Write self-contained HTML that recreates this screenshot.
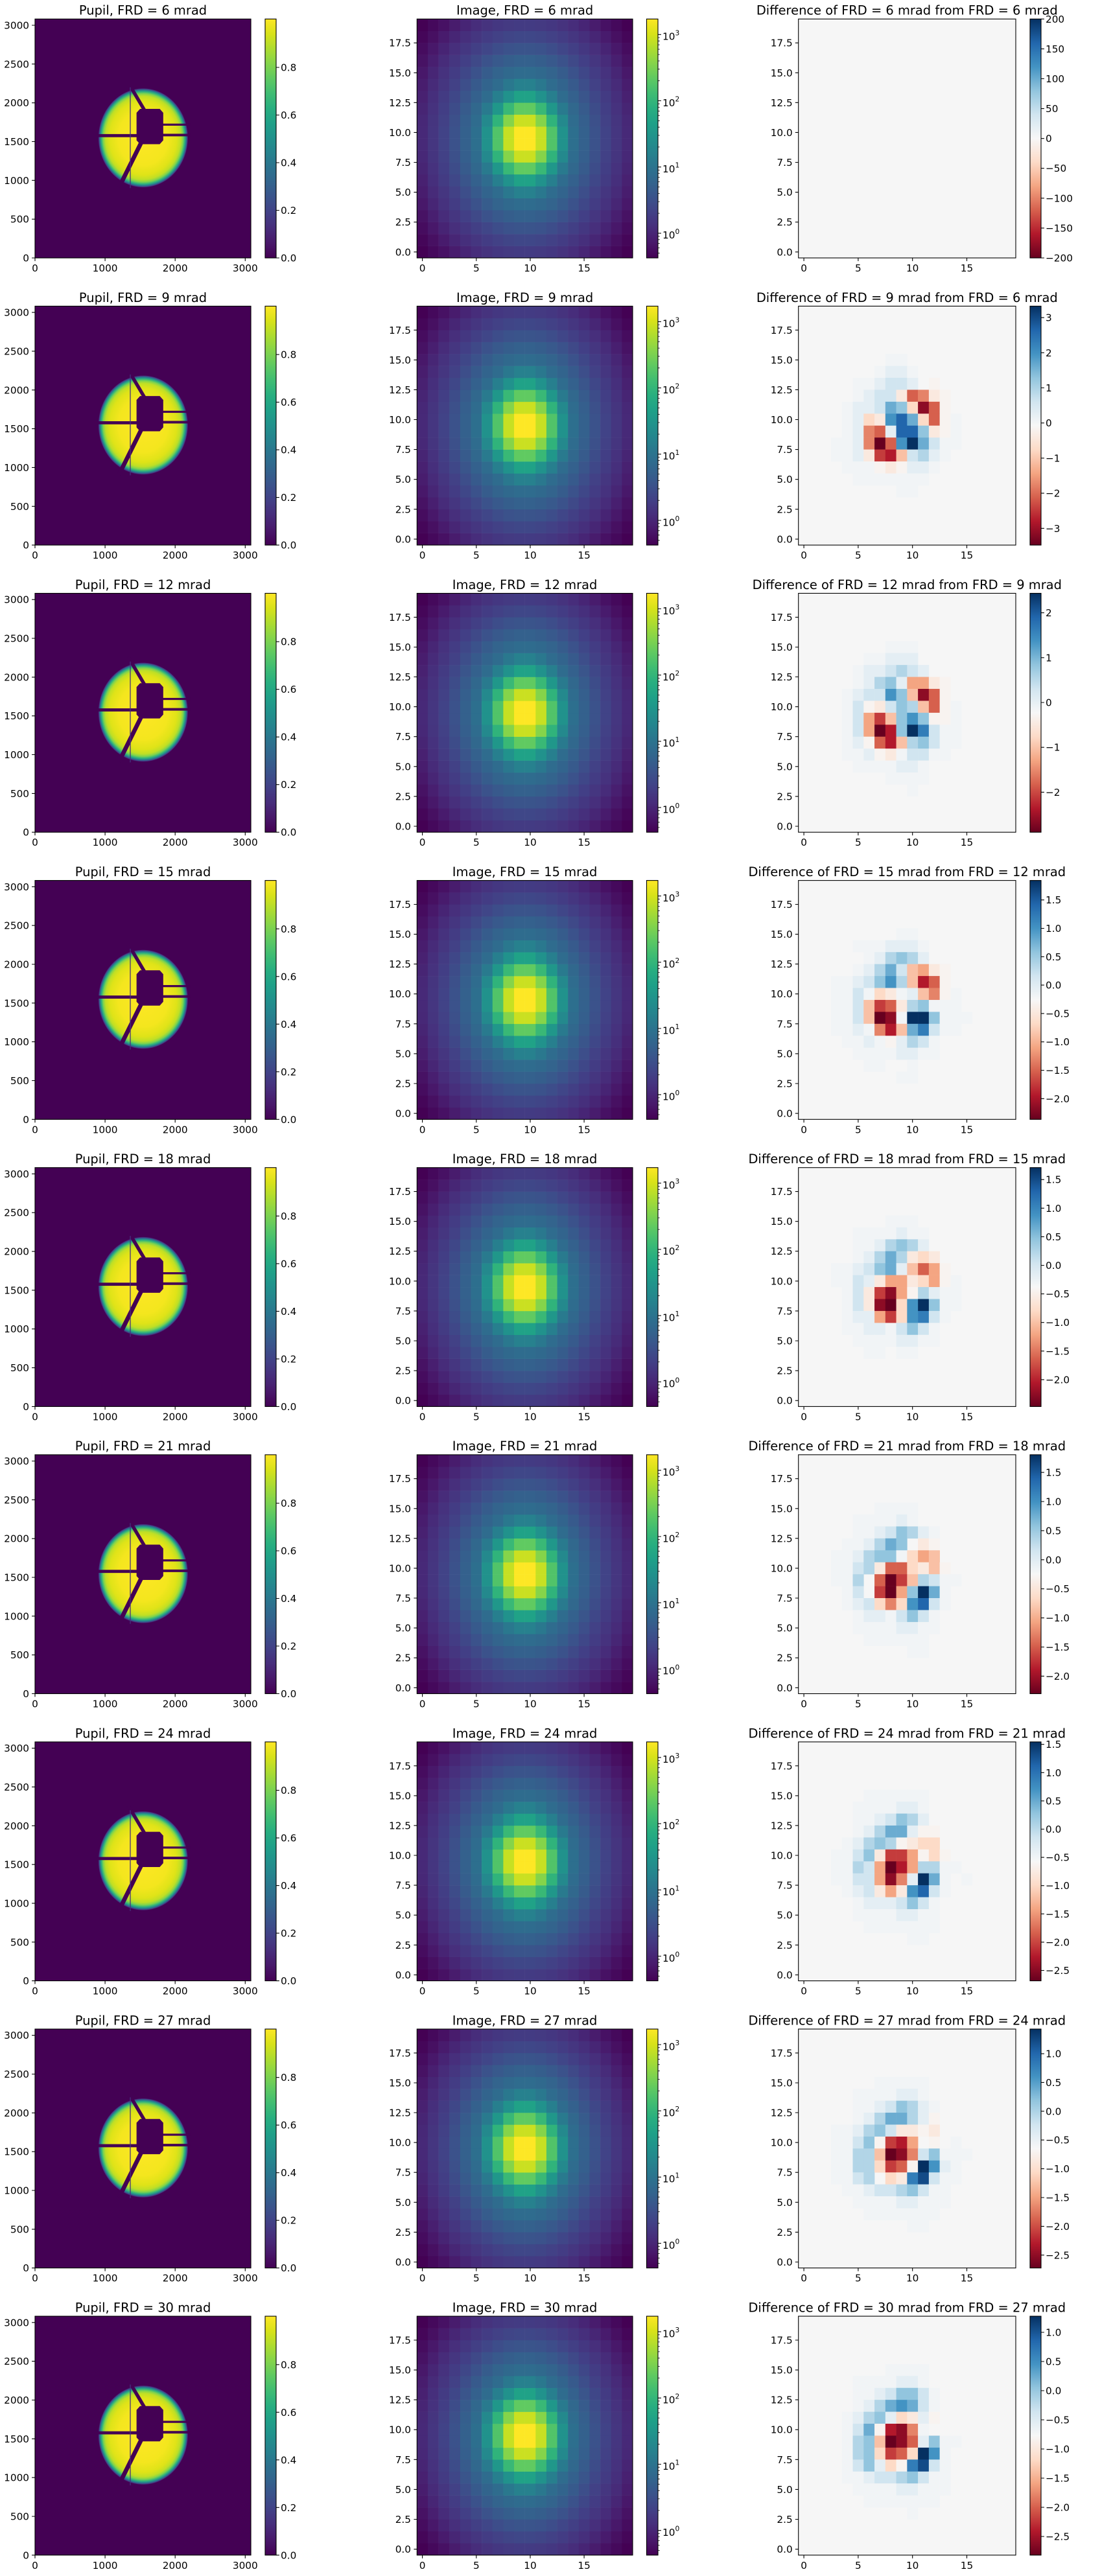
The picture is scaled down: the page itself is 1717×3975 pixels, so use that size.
<!DOCTYPE html>
<html><head><meta charset="utf-8">
<style>
html,body{margin:0;padding:0;background:#fff}
svg{display:block}
text{font-family:"DejaVu Sans","Liberation Sans",sans-serif;font-size:15.28px;fill:#000}
.t{font-size:19.44px;text-anchor:middle}
.r{text-anchor:end}
.c{text-anchor:middle}
.s{font-size:10.7px}
.tk{fill:none;stroke:#000;stroke-width:1.1}
</style></head><body>
<svg xmlns="http://www.w3.org/2000/svg" xmlns:xlink="http://www.w3.org/1999/xlink" width="1717" height="3975" viewBox="0 0 1717 3975">
<defs>
<linearGradient id="gv" x1="0" y1="1" x2="0" y2="0">
<stop offset="0" stop-color="#440154"/><stop offset="0.0625" stop-color="#48186a"/><stop offset="0.125" stop-color="#472d7b"/><stop offset="0.1875" stop-color="#424086"/><stop offset="0.25" stop-color="#3b528b"/><stop offset="0.3125" stop-color="#33638d"/><stop offset="0.375" stop-color="#2c728e"/><stop offset="0.4375" stop-color="#26828e"/><stop offset="0.5" stop-color="#21918c"/><stop offset="0.5625" stop-color="#1fa088"/><stop offset="0.625" stop-color="#28ae80"/><stop offset="0.6875" stop-color="#3fbc73"/><stop offset="0.75" stop-color="#5ec962"/><stop offset="0.8125" stop-color="#84d44b"/><stop offset="0.875" stop-color="#addc30"/><stop offset="0.9375" stop-color="#d8e219"/><stop offset="1" stop-color="#fde725"/>
</linearGradient>
<linearGradient id="gr" x1="0" y1="1" x2="0" y2="0">
<stop offset="0" stop-color="#67001f"/><stop offset="0.1" stop-color="#b2182b"/><stop offset="0.2" stop-color="#d6604d"/><stop offset="0.3" stop-color="#f4a582"/><stop offset="0.4" stop-color="#fddbc7"/><stop offset="0.5" stop-color="#f7f7f7"/><stop offset="0.6" stop-color="#d1e5f0"/><stop offset="0.7" stop-color="#92c5de"/><stop offset="0.8" stop-color="#4393c3"/><stop offset="0.9" stop-color="#2166ac"/><stop offset="1" stop-color="#053061"/>
</linearGradient>
<radialGradient id="pg" gradientUnits="userSpaceOnUse" cx="1543" cy="1548" r="640">
<stop offset="0" stop-color="#fde725"/><stop offset="0.55" stop-color="#f4e61e"/><stop offset="0.75" stop-color="#dfe318"/><stop offset="0.84" stop-color="#bfdf25"/><stop offset="0.89" stop-color="#7fd34e"/><stop offset="0.925" stop-color="#35b779"/><stop offset="0.955" stop-color="#23888e"/><stop offset="0.978" stop-color="#3b528b"/><stop offset="0.993" stop-color="#482475"/><stop offset="1" stop-color="#440154"/>
</radialGradient>
<clipPath id="pc"><rect x="54" y="29.3" width="333" height="368.7"/></clipPath>
<g id="pupil" clip-path="url(#pc)">
<rect x="54" y="29.3" width="333" height="368.7" fill="#440154"/>
<g transform="matrix(0.1081 0 0 -0.11967 54 398)">
<circle cx="1543" cy="1548" r="640" fill="url(#pg)"/>
<g fill="#440154">
<rect x="880" y="1557" width="580" height="40"/>
<rect x="1820" y="1705" width="400" height="27"/>
<rect x="1820" y="1568" width="400" height="33"/>
<polygon points="1499,1922 1780,1922 1830,1872 1830,1517 1780,1467 1499,1467 1449,1517 1449,1872"/>
</g>
<line x1="1330" y1="2260" x2="1572" y2="1890" stroke="#440154" stroke-width="48"/>
<line x1="1520" y1="1495" x2="1199" y2="910" stroke="#440154" stroke-width="60"/>
<line x1="1360" y1="2200" x2="1360" y2="900" stroke="#46307e" stroke-width="12"/>
</g>
</g>
<g id="psf"></g>
<g id="fr">
<rect x="409" y="29.3" width="17" height="368.7" fill="url(#gv)" stroke="#000" stroke-width="1.1"/>
<rect x="997.5" y="29.3" width="17.5" height="368.7" fill="url(#gv)" stroke="#000" stroke-width="1.1"/>
<rect x="1589" y="29.3" width="17" height="368.7" fill="url(#gr)" stroke="#000" stroke-width="1.1"/>
<g fill="none" stroke="#000" stroke-width="1.1">
<rect x="54" y="29.3" width="333" height="368.7"/>
<rect x="643.3" y="29.3" width="332.7" height="368.7"/>
<rect x="1231.7" y="29.3" width="335.3" height="368.7"/>
<path d="M54 398v4.9M162.1 398v4.9M270.2 398v4.9M378.3 398v4.9M49.1 398h4.9M49.1 338.2h4.9M49.1 278.3h4.9M49.1 218.5h4.9M49.1 158.7h4.9M49.1 98.8h4.9M49.1 39h4.9M426 398h4.9M426 324.5h4.9M426 251h4.9M426 177.5h4.9M426 104h4.9M651.6 398v4.9M734.8 398v4.9M818 398v4.9M901.1 398v4.9M638.4 388.8h4.9M638.4 342.7h4.9M638.4 296.6h4.9M638.4 250.5h4.9M638.4 204.4h4.9M638.4 158.3h4.9M638.4 112.3h4.9M638.4 66.2h4.9M1015 359.9h4.9M1015 257.7h4.9M1015 155.5h4.9M1015 53.3h4.9M1240.1 398v4.9M1323.9 398v4.9M1407.7 398v4.9M1491.5 398v4.9M1226.8 388.8h4.9M1226.8 342.7h4.9M1226.8 296.6h4.9M1226.8 250.5h4.9M1226.8 204.4h4.9M1226.8 158.3h4.9M1226.8 112.3h4.9M1226.8 66.2h4.9"/>
<path stroke-width="0.8" d="M1015 329.1h2.8M1015 311.1h2.8M1015 298.4h2.8M1015 288.5h2.8M1015 280.4h2.8M1015 273.5h2.8M1015 267.6h2.8M1015 262.4h2.8M1015 226.9h2.8M1015 208.9h2.8M1015 196.2h2.8M1015 186.3h2.8M1015 178.2h2.8M1015 171.3h2.8M1015 165.4h2.8M1015 160.2h2.8M1015 124.7h2.8M1015 106.7h2.8M1015 94h2.8M1015 84.1h2.8M1015 76h2.8M1015 69.1h2.8M1015 63.2h2.8M1015 58h2.8M1015 390.7h2.8M1015 382.6h2.8M1015 375.7h2.8M1015 369.8h2.8M1015 364.6h2.8"/>
</g>
</g>
</defs>

<!-- ROW 1 -->
<g>
<use href="#pupil" xlink:href="#pupil"/><use href="#psf" xlink:href="#psf"/>
<rect x="1231.7" y="29.3" width="335.3" height="368.7" fill="#f6f6f6"/><g id="d0"></g>
<use href="#fr" xlink:href="#fr"/>
<path class="tk" d="M1606 29.3h4.9M1606 75.4h4.9M1606 121.5h4.9M1606 167.6h4.9M1606 213.7h4.9M1606 259.7h4.9M1606 305.8h4.9M1606 351.9h4.9M1606 398h4.9"/>
<text class="t" x="220.5" y="22.7">Pupil, FRD = 6 mrad</text>
<text class="t" x="809.6" y="22.7">Image, FRD = 6 mrad</text>
<text class="t" x="1399.3" y="22.7">Difference of FRD = 6 mrad from FRD = 6 mrad</text>
<text class="r"><tspan x="45" y="403.5">0</tspan><tspan x="45" y="343.7">500</tspan><tspan x="45" y="283.8">1000</tspan><tspan x="45" y="224">1500</tspan><tspan x="45" y="164.2">2000</tspan><tspan x="45" y="104.3">2500</tspan><tspan x="45" y="44.5">3000</tspan></text><text class="c"><tspan x="54" y="419">0</tspan><tspan x="162.1" y="419">1000</tspan><tspan x="270.2" y="419">2000</tspan><tspan x="378.3" y="419">3000</tspan></text><text><tspan x="433" y="403.5">0.0</tspan><tspan x="433" y="330">0.2</tspan><tspan x="433" y="256.5">0.4</tspan><tspan x="433" y="183">0.6</tspan><tspan x="433" y="109.5">0.8</tspan></text>
<text class="r"><tspan x="634" y="394.3">0.0</tspan><tspan x="634" y="348.2">2.5</tspan><tspan x="634" y="302.1">5.0</tspan><tspan x="634" y="256">7.5</tspan><tspan x="634" y="209.9">10.0</tspan><tspan x="634" y="163.8">12.5</tspan><tspan x="634" y="117.8">15.0</tspan><tspan x="634" y="71.7">17.5</tspan></text><text class="c"><tspan x="651.6" y="419">0</tspan><tspan x="734.8" y="419">5</tspan><tspan x="818" y="419">10</tspan><tspan x="901.1" y="419">15</tspan></text><text x="1022" y="61.6">10<tspan dy="-7.3" class="s">3</tspan></text><text x="1022" y="163.8">10<tspan dy="-7.3" class="s">2</tspan></text><text x="1022" y="266">10<tspan dy="-7.3" class="s">1</tspan></text><text x="1022" y="368.2">10<tspan dy="-7.3" class="s">0</tspan></text>
<text class="r"><tspan x="1222.7" y="394.3">0.0</tspan><tspan x="1222.7" y="348.2">2.5</tspan><tspan x="1222.7" y="302.1">5.0</tspan><tspan x="1222.7" y="256">7.5</tspan><tspan x="1222.7" y="209.9">10.0</tspan><tspan x="1222.7" y="163.8">12.5</tspan><tspan x="1222.7" y="117.8">15.0</tspan><tspan x="1222.7" y="71.7">17.5</tspan></text><text class="c"><tspan x="1240.1" y="419">0</tspan><tspan x="1323.9" y="419">5</tspan><tspan x="1407.7" y="419">10</tspan><tspan x="1491.5" y="419">15</tspan></text>
<text><tspan x="1613" y="34.8">200</tspan><tspan x="1613" y="80.9">150</tspan><tspan x="1613" y="127">100</tspan><tspan x="1613" y="173.1">50</tspan><tspan x="1613" y="219.2">0</tspan><tspan x="1613" y="265.2">−50</tspan><tspan x="1613" y="311.3">−100</tspan><tspan x="1613" y="357.4">−150</tspan><tspan x="1613" y="403.5">−200</tspan></text>
</g>

<!-- ROW 2 -->
<g transform="translate(0,443.1)">
<use href="#pupil" xlink:href="#pupil"/><use href="#psf" xlink:href="#psf"/>
<rect x="1231.7" y="29.3" width="335.3" height="368.7" fill="#f6f6f6"/><g id="d1"></g>
<use href="#fr" xlink:href="#fr"/>
<path class="tk" d="M1606 47h4.9M1606 101.2h4.9M1606 155.4h4.9M1606 209.6h4.9M1606 263.8h4.9M1606 318h4.9M1606 372.2h4.9"/>
<text class="t" x="220.5" y="22.7">Pupil, FRD = 9 mrad</text>
<text class="t" x="809.6" y="22.7">Image, FRD = 9 mrad</text>
<text class="t" x="1399.3" y="22.7">Difference of FRD = 9 mrad from FRD = 6 mrad</text>
<text class="r"><tspan x="45" y="403.5">0</tspan><tspan x="45" y="343.7">500</tspan><tspan x="45" y="283.8">1000</tspan><tspan x="45" y="224">1500</tspan><tspan x="45" y="164.2">2000</tspan><tspan x="45" y="104.3">2500</tspan><tspan x="45" y="44.5">3000</tspan></text><text class="c"><tspan x="54" y="419">0</tspan><tspan x="162.1" y="419">1000</tspan><tspan x="270.2" y="419">2000</tspan><tspan x="378.3" y="419">3000</tspan></text><text><tspan x="433" y="403.5">0.0</tspan><tspan x="433" y="330">0.2</tspan><tspan x="433" y="256.5">0.4</tspan><tspan x="433" y="183">0.6</tspan><tspan x="433" y="109.5">0.8</tspan></text>
<text class="r"><tspan x="634" y="394.3">0.0</tspan><tspan x="634" y="348.2">2.5</tspan><tspan x="634" y="302.1">5.0</tspan><tspan x="634" y="256">7.5</tspan><tspan x="634" y="209.9">10.0</tspan><tspan x="634" y="163.8">12.5</tspan><tspan x="634" y="117.8">15.0</tspan><tspan x="634" y="71.7">17.5</tspan></text><text class="c"><tspan x="651.6" y="419">0</tspan><tspan x="734.8" y="419">5</tspan><tspan x="818" y="419">10</tspan><tspan x="901.1" y="419">15</tspan></text><text x="1022" y="61.6">10<tspan dy="-7.3" class="s">3</tspan></text><text x="1022" y="163.8">10<tspan dy="-7.3" class="s">2</tspan></text><text x="1022" y="266">10<tspan dy="-7.3" class="s">1</tspan></text><text x="1022" y="368.2">10<tspan dy="-7.3" class="s">0</tspan></text>
<text class="r"><tspan x="1222.7" y="394.3">0.0</tspan><tspan x="1222.7" y="348.2">2.5</tspan><tspan x="1222.7" y="302.1">5.0</tspan><tspan x="1222.7" y="256">7.5</tspan><tspan x="1222.7" y="209.9">10.0</tspan><tspan x="1222.7" y="163.8">12.5</tspan><tspan x="1222.7" y="117.8">15.0</tspan><tspan x="1222.7" y="71.7">17.5</tspan></text><text class="c"><tspan x="1240.1" y="419">0</tspan><tspan x="1323.9" y="419">5</tspan><tspan x="1407.7" y="419">10</tspan><tspan x="1491.5" y="419">15</tspan></text>
<text><tspan x="1613" y="52.5">3</tspan><tspan x="1613" y="106.7">2</tspan><tspan x="1613" y="160.9">1</tspan><tspan x="1613" y="215.1">0</tspan><tspan x="1613" y="269.3">−1</tspan><tspan x="1613" y="323.5">−2</tspan><tspan x="1613" y="377.7">−3</tspan></text>
</g>

<!-- ROW 3 -->
<g transform="translate(0,886.2)">
<use href="#pupil" xlink:href="#pupil"/><use href="#psf" xlink:href="#psf"/>
<rect x="1231.7" y="29.3" width="335.3" height="368.7" fill="#f6f6f6"/><g id="d2"></g>
<use href="#fr" xlink:href="#fr"/>
<path class="tk" d="M1606 59.4h4.9M1606 128.6h4.9M1606 197.8h4.9M1606 267h4.9M1606 336.2h4.9"/>
<text class="t" x="220.5" y="22.7">Pupil, FRD = 12 mrad</text>
<text class="t" x="809.6" y="22.7">Image, FRD = 12 mrad</text>
<text class="t" x="1399.3" y="22.7">Difference of FRD = 12 mrad from FRD = 9 mrad</text>
<text class="r"><tspan x="45" y="403.5">0</tspan><tspan x="45" y="343.7">500</tspan><tspan x="45" y="283.8">1000</tspan><tspan x="45" y="224">1500</tspan><tspan x="45" y="164.2">2000</tspan><tspan x="45" y="104.3">2500</tspan><tspan x="45" y="44.5">3000</tspan></text><text class="c"><tspan x="54" y="419">0</tspan><tspan x="162.1" y="419">1000</tspan><tspan x="270.2" y="419">2000</tspan><tspan x="378.3" y="419">3000</tspan></text><text><tspan x="433" y="403.5">0.0</tspan><tspan x="433" y="330">0.2</tspan><tspan x="433" y="256.5">0.4</tspan><tspan x="433" y="183">0.6</tspan><tspan x="433" y="109.5">0.8</tspan></text>
<text class="r"><tspan x="634" y="394.3">0.0</tspan><tspan x="634" y="348.2">2.5</tspan><tspan x="634" y="302.1">5.0</tspan><tspan x="634" y="256">7.5</tspan><tspan x="634" y="209.9">10.0</tspan><tspan x="634" y="163.8">12.5</tspan><tspan x="634" y="117.8">15.0</tspan><tspan x="634" y="71.7">17.5</tspan></text><text class="c"><tspan x="651.6" y="419">0</tspan><tspan x="734.8" y="419">5</tspan><tspan x="818" y="419">10</tspan><tspan x="901.1" y="419">15</tspan></text><text x="1022" y="61.6">10<tspan dy="-7.3" class="s">3</tspan></text><text x="1022" y="163.8">10<tspan dy="-7.3" class="s">2</tspan></text><text x="1022" y="266">10<tspan dy="-7.3" class="s">1</tspan></text><text x="1022" y="368.2">10<tspan dy="-7.3" class="s">0</tspan></text>
<text class="r"><tspan x="1222.7" y="394.3">0.0</tspan><tspan x="1222.7" y="348.2">2.5</tspan><tspan x="1222.7" y="302.1">5.0</tspan><tspan x="1222.7" y="256">7.5</tspan><tspan x="1222.7" y="209.9">10.0</tspan><tspan x="1222.7" y="163.8">12.5</tspan><tspan x="1222.7" y="117.8">15.0</tspan><tspan x="1222.7" y="71.7">17.5</tspan></text><text class="c"><tspan x="1240.1" y="419">0</tspan><tspan x="1323.9" y="419">5</tspan><tspan x="1407.7" y="419">10</tspan><tspan x="1491.5" y="419">15</tspan></text>
<text><tspan x="1613" y="64.9">2</tspan><tspan x="1613" y="134.1">1</tspan><tspan x="1613" y="203.3">0</tspan><tspan x="1613" y="272.5">−1</tspan><tspan x="1613" y="341.7">−2</tspan></text>
</g>

<!-- ROW 4 -->
<g transform="translate(0,1329.3)">
<use href="#pupil" xlink:href="#pupil"/><use href="#psf" xlink:href="#psf"/>
<rect x="1231.7" y="29.3" width="335.3" height="368.7" fill="#f6f6f6"/><g id="d3"></g>
<use href="#fr" xlink:href="#fr"/>
<path class="tk" d="M1606 59.4h4.9M1606 103.2h4.9M1606 147h4.9M1606 190.8h4.9M1606 234.6h4.9M1606 278.4h4.9M1606 322.2h4.9M1606 366h4.9"/>
<text class="t" x="220.5" y="22.7">Pupil, FRD = 15 mrad</text>
<text class="t" x="809.6" y="22.7">Image, FRD = 15 mrad</text>
<text class="t" x="1399.3" y="22.7">Difference of FRD = 15 mrad from FRD = 12 mrad</text>
<text class="r"><tspan x="45" y="403.5">0</tspan><tspan x="45" y="343.7">500</tspan><tspan x="45" y="283.8">1000</tspan><tspan x="45" y="224">1500</tspan><tspan x="45" y="164.2">2000</tspan><tspan x="45" y="104.3">2500</tspan><tspan x="45" y="44.5">3000</tspan></text><text class="c"><tspan x="54" y="419">0</tspan><tspan x="162.1" y="419">1000</tspan><tspan x="270.2" y="419">2000</tspan><tspan x="378.3" y="419">3000</tspan></text><text><tspan x="433" y="403.5">0.0</tspan><tspan x="433" y="330">0.2</tspan><tspan x="433" y="256.5">0.4</tspan><tspan x="433" y="183">0.6</tspan><tspan x="433" y="109.5">0.8</tspan></text>
<text class="r"><tspan x="634" y="394.3">0.0</tspan><tspan x="634" y="348.2">2.5</tspan><tspan x="634" y="302.1">5.0</tspan><tspan x="634" y="256">7.5</tspan><tspan x="634" y="209.9">10.0</tspan><tspan x="634" y="163.8">12.5</tspan><tspan x="634" y="117.8">15.0</tspan><tspan x="634" y="71.7">17.5</tspan></text><text class="c"><tspan x="651.6" y="419">0</tspan><tspan x="734.8" y="419">5</tspan><tspan x="818" y="419">10</tspan><tspan x="901.1" y="419">15</tspan></text><text x="1022" y="61.6">10<tspan dy="-7.3" class="s">3</tspan></text><text x="1022" y="163.8">10<tspan dy="-7.3" class="s">2</tspan></text><text x="1022" y="266">10<tspan dy="-7.3" class="s">1</tspan></text><text x="1022" y="368.2">10<tspan dy="-7.3" class="s">0</tspan></text>
<text class="r"><tspan x="1222.7" y="394.3">0.0</tspan><tspan x="1222.7" y="348.2">2.5</tspan><tspan x="1222.7" y="302.1">5.0</tspan><tspan x="1222.7" y="256">7.5</tspan><tspan x="1222.7" y="209.9">10.0</tspan><tspan x="1222.7" y="163.8">12.5</tspan><tspan x="1222.7" y="117.8">15.0</tspan><tspan x="1222.7" y="71.7">17.5</tspan></text><text class="c"><tspan x="1240.1" y="419">0</tspan><tspan x="1323.9" y="419">5</tspan><tspan x="1407.7" y="419">10</tspan><tspan x="1491.5" y="419">15</tspan></text>
<text><tspan x="1613" y="64.9">1.5</tspan><tspan x="1613" y="108.7">1.0</tspan><tspan x="1613" y="152.5">0.5</tspan><tspan x="1613" y="196.3">0.0</tspan><tspan x="1613" y="240.1">−0.5</tspan><tspan x="1613" y="283.9">−1.0</tspan><tspan x="1613" y="327.7">−1.5</tspan><tspan x="1613" y="371.5">−2.0</tspan></text>
</g>

<!-- ROW 5 -->
<g transform="translate(0,1772.4)">
<use href="#pupil" xlink:href="#pupil"/><use href="#psf" xlink:href="#psf"/>
<rect x="1231.7" y="29.3" width="335.3" height="368.7" fill="#f6f6f6"/><g id="d4"></g>
<use href="#fr" xlink:href="#fr"/>
<path class="tk" d="M1606 47.8h4.9M1606 91.9h4.9M1606 136h4.9M1606 180.1h4.9M1606 224.2h4.9M1606 268.3h4.9M1606 312.4h4.9M1606 356.5h4.9"/>
<text class="t" x="220.5" y="22.7">Pupil, FRD = 18 mrad</text>
<text class="t" x="809.6" y="22.7">Image, FRD = 18 mrad</text>
<text class="t" x="1399.3" y="22.7">Difference of FRD = 18 mrad from FRD = 15 mrad</text>
<text class="r"><tspan x="45" y="403.5">0</tspan><tspan x="45" y="343.7">500</tspan><tspan x="45" y="283.8">1000</tspan><tspan x="45" y="224">1500</tspan><tspan x="45" y="164.2">2000</tspan><tspan x="45" y="104.3">2500</tspan><tspan x="45" y="44.5">3000</tspan></text><text class="c"><tspan x="54" y="419">0</tspan><tspan x="162.1" y="419">1000</tspan><tspan x="270.2" y="419">2000</tspan><tspan x="378.3" y="419">3000</tspan></text><text><tspan x="433" y="403.5">0.0</tspan><tspan x="433" y="330">0.2</tspan><tspan x="433" y="256.5">0.4</tspan><tspan x="433" y="183">0.6</tspan><tspan x="433" y="109.5">0.8</tspan></text>
<text class="r"><tspan x="634" y="394.3">0.0</tspan><tspan x="634" y="348.2">2.5</tspan><tspan x="634" y="302.1">5.0</tspan><tspan x="634" y="256">7.5</tspan><tspan x="634" y="209.9">10.0</tspan><tspan x="634" y="163.8">12.5</tspan><tspan x="634" y="117.8">15.0</tspan><tspan x="634" y="71.7">17.5</tspan></text><text class="c"><tspan x="651.6" y="419">0</tspan><tspan x="734.8" y="419">5</tspan><tspan x="818" y="419">10</tspan><tspan x="901.1" y="419">15</tspan></text><text x="1022" y="61.6">10<tspan dy="-7.3" class="s">3</tspan></text><text x="1022" y="163.8">10<tspan dy="-7.3" class="s">2</tspan></text><text x="1022" y="266">10<tspan dy="-7.3" class="s">1</tspan></text><text x="1022" y="368.2">10<tspan dy="-7.3" class="s">0</tspan></text>
<text class="r"><tspan x="1222.7" y="394.3">0.0</tspan><tspan x="1222.7" y="348.2">2.5</tspan><tspan x="1222.7" y="302.1">5.0</tspan><tspan x="1222.7" y="256">7.5</tspan><tspan x="1222.7" y="209.9">10.0</tspan><tspan x="1222.7" y="163.8">12.5</tspan><tspan x="1222.7" y="117.8">15.0</tspan><tspan x="1222.7" y="71.7">17.5</tspan></text><text class="c"><tspan x="1240.1" y="419">0</tspan><tspan x="1323.9" y="419">5</tspan><tspan x="1407.7" y="419">10</tspan><tspan x="1491.5" y="419">15</tspan></text>
<text><tspan x="1613" y="53.3">1.5</tspan><tspan x="1613" y="97.4">1.0</tspan><tspan x="1613" y="141.5">0.5</tspan><tspan x="1613" y="185.6">0.0</tspan><tspan x="1613" y="229.7">−0.5</tspan><tspan x="1613" y="273.8">−1.0</tspan><tspan x="1613" y="317.9">−1.5</tspan><tspan x="1613" y="362">−2.0</tspan></text>
</g>

<!-- ROW 6 -->
<g transform="translate(0,2215.5)">
<use href="#pupil" xlink:href="#pupil"/><use href="#psf" xlink:href="#psf"/>
<rect x="1231.7" y="29.3" width="335.3" height="368.7" fill="#f6f6f6"/><g id="d5"></g>
<use href="#fr" xlink:href="#fr"/>
<path class="tk" d="M1606 56.6h4.9M1606 101.5h4.9M1606 146.4h4.9M1606 191.3h4.9M1606 236.2h4.9M1606 281.1h4.9M1606 326h4.9M1606 370.9h4.9"/>
<text class="t" x="220.5" y="22.7">Pupil, FRD = 21 mrad</text>
<text class="t" x="809.6" y="22.7">Image, FRD = 21 mrad</text>
<text class="t" x="1399.3" y="22.7">Difference of FRD = 21 mrad from FRD = 18 mrad</text>
<text class="r"><tspan x="45" y="403.5">0</tspan><tspan x="45" y="343.7">500</tspan><tspan x="45" y="283.8">1000</tspan><tspan x="45" y="224">1500</tspan><tspan x="45" y="164.2">2000</tspan><tspan x="45" y="104.3">2500</tspan><tspan x="45" y="44.5">3000</tspan></text><text class="c"><tspan x="54" y="419">0</tspan><tspan x="162.1" y="419">1000</tspan><tspan x="270.2" y="419">2000</tspan><tspan x="378.3" y="419">3000</tspan></text><text><tspan x="433" y="403.5">0.0</tspan><tspan x="433" y="330">0.2</tspan><tspan x="433" y="256.5">0.4</tspan><tspan x="433" y="183">0.6</tspan><tspan x="433" y="109.5">0.8</tspan></text>
<text class="r"><tspan x="634" y="394.3">0.0</tspan><tspan x="634" y="348.2">2.5</tspan><tspan x="634" y="302.1">5.0</tspan><tspan x="634" y="256">7.5</tspan><tspan x="634" y="209.9">10.0</tspan><tspan x="634" y="163.8">12.5</tspan><tspan x="634" y="117.8">15.0</tspan><tspan x="634" y="71.7">17.5</tspan></text><text class="c"><tspan x="651.6" y="419">0</tspan><tspan x="734.8" y="419">5</tspan><tspan x="818" y="419">10</tspan><tspan x="901.1" y="419">15</tspan></text><text x="1022" y="61.6">10<tspan dy="-7.3" class="s">3</tspan></text><text x="1022" y="163.8">10<tspan dy="-7.3" class="s">2</tspan></text><text x="1022" y="266">10<tspan dy="-7.3" class="s">1</tspan></text><text x="1022" y="368.2">10<tspan dy="-7.3" class="s">0</tspan></text>
<text class="r"><tspan x="1222.7" y="394.3">0.0</tspan><tspan x="1222.7" y="348.2">2.5</tspan><tspan x="1222.7" y="302.1">5.0</tspan><tspan x="1222.7" y="256">7.5</tspan><tspan x="1222.7" y="209.9">10.0</tspan><tspan x="1222.7" y="163.8">12.5</tspan><tspan x="1222.7" y="117.8">15.0</tspan><tspan x="1222.7" y="71.7">17.5</tspan></text><text class="c"><tspan x="1240.1" y="419">0</tspan><tspan x="1323.9" y="419">5</tspan><tspan x="1407.7" y="419">10</tspan><tspan x="1491.5" y="419">15</tspan></text>
<text><tspan x="1613" y="62.1">1.5</tspan><tspan x="1613" y="107">1.0</tspan><tspan x="1613" y="151.9">0.5</tspan><tspan x="1613" y="196.8">0.0</tspan><tspan x="1613" y="241.7">−0.5</tspan><tspan x="1613" y="286.6">−1.0</tspan><tspan x="1613" y="331.5">−1.5</tspan><tspan x="1613" y="376.4">−2.0</tspan></text>
</g>

<!-- ROW 7 -->
<g transform="translate(0,2658.6)">
<use href="#pupil" xlink:href="#pupil"/><use href="#psf" xlink:href="#psf"/>
<rect x="1231.7" y="29.3" width="335.3" height="368.7" fill="#f6f6f6"/><g id="d6"></g>
<use href="#fr" xlink:href="#fr"/>
<path class="tk" d="M1606 33.1h4.9M1606 76.7h4.9M1606 120.3h4.9M1606 163.9h4.9M1606 207.5h4.9M1606 251.1h4.9M1606 294.7h4.9M1606 338.3h4.9M1606 381.9h4.9"/>
<text class="t" x="220.5" y="22.7">Pupil, FRD = 24 mrad</text>
<text class="t" x="809.6" y="22.7">Image, FRD = 24 mrad</text>
<text class="t" x="1399.3" y="22.7">Difference of FRD = 24 mrad from FRD = 21 mrad</text>
<text class="r"><tspan x="45" y="403.5">0</tspan><tspan x="45" y="343.7">500</tspan><tspan x="45" y="283.8">1000</tspan><tspan x="45" y="224">1500</tspan><tspan x="45" y="164.2">2000</tspan><tspan x="45" y="104.3">2500</tspan><tspan x="45" y="44.5">3000</tspan></text><text class="c"><tspan x="54" y="419">0</tspan><tspan x="162.1" y="419">1000</tspan><tspan x="270.2" y="419">2000</tspan><tspan x="378.3" y="419">3000</tspan></text><text><tspan x="433" y="403.5">0.0</tspan><tspan x="433" y="330">0.2</tspan><tspan x="433" y="256.5">0.4</tspan><tspan x="433" y="183">0.6</tspan><tspan x="433" y="109.5">0.8</tspan></text>
<text class="r"><tspan x="634" y="394.3">0.0</tspan><tspan x="634" y="348.2">2.5</tspan><tspan x="634" y="302.1">5.0</tspan><tspan x="634" y="256">7.5</tspan><tspan x="634" y="209.9">10.0</tspan><tspan x="634" y="163.8">12.5</tspan><tspan x="634" y="117.8">15.0</tspan><tspan x="634" y="71.7">17.5</tspan></text><text class="c"><tspan x="651.6" y="419">0</tspan><tspan x="734.8" y="419">5</tspan><tspan x="818" y="419">10</tspan><tspan x="901.1" y="419">15</tspan></text><text x="1022" y="61.6">10<tspan dy="-7.3" class="s">3</tspan></text><text x="1022" y="163.8">10<tspan dy="-7.3" class="s">2</tspan></text><text x="1022" y="266">10<tspan dy="-7.3" class="s">1</tspan></text><text x="1022" y="368.2">10<tspan dy="-7.3" class="s">0</tspan></text>
<text class="r"><tspan x="1222.7" y="394.3">0.0</tspan><tspan x="1222.7" y="348.2">2.5</tspan><tspan x="1222.7" y="302.1">5.0</tspan><tspan x="1222.7" y="256">7.5</tspan><tspan x="1222.7" y="209.9">10.0</tspan><tspan x="1222.7" y="163.8">12.5</tspan><tspan x="1222.7" y="117.8">15.0</tspan><tspan x="1222.7" y="71.7">17.5</tspan></text><text class="c"><tspan x="1240.1" y="419">0</tspan><tspan x="1323.9" y="419">5</tspan><tspan x="1407.7" y="419">10</tspan><tspan x="1491.5" y="419">15</tspan></text>
<text><tspan x="1613" y="38.6">1.5</tspan><tspan x="1613" y="82.2">1.0</tspan><tspan x="1613" y="125.8">0.5</tspan><tspan x="1613" y="169.4">0.0</tspan><tspan x="1613" y="213">−0.5</tspan><tspan x="1613" y="256.6">−1.0</tspan><tspan x="1613" y="300.2">−1.5</tspan><tspan x="1613" y="343.8">−2.0</tspan><tspan x="1613" y="387.4">−2.5</tspan></text>
</g>

<!-- ROW 8 -->
<g transform="translate(0,3101.7)">
<use href="#pupil" xlink:href="#pupil"/><use href="#psf" xlink:href="#psf"/>
<rect x="1231.7" y="29.3" width="335.3" height="368.7" fill="#f6f6f6"/><g id="d7"></g>
<use href="#fr" xlink:href="#fr"/>
<path class="tk" d="M1606 67.4h4.9M1606 111.7h4.9M1606 156.1h4.9M1606 200.5h4.9M1606 244.9h4.9M1606 289.3h4.9M1606 333.7h4.9M1606 378.1h4.9"/>
<text class="t" x="220.5" y="22.7">Pupil, FRD = 27 mrad</text>
<text class="t" x="809.6" y="22.7">Image, FRD = 27 mrad</text>
<text class="t" x="1399.3" y="22.7">Difference of FRD = 27 mrad from FRD = 24 mrad</text>
<text class="r"><tspan x="45" y="403.5">0</tspan><tspan x="45" y="343.7">500</tspan><tspan x="45" y="283.8">1000</tspan><tspan x="45" y="224">1500</tspan><tspan x="45" y="164.2">2000</tspan><tspan x="45" y="104.3">2500</tspan><tspan x="45" y="44.5">3000</tspan></text><text class="c"><tspan x="54" y="419">0</tspan><tspan x="162.1" y="419">1000</tspan><tspan x="270.2" y="419">2000</tspan><tspan x="378.3" y="419">3000</tspan></text><text><tspan x="433" y="403.5">0.0</tspan><tspan x="433" y="330">0.2</tspan><tspan x="433" y="256.5">0.4</tspan><tspan x="433" y="183">0.6</tspan><tspan x="433" y="109.5">0.8</tspan></text>
<text class="r"><tspan x="634" y="394.3">0.0</tspan><tspan x="634" y="348.2">2.5</tspan><tspan x="634" y="302.1">5.0</tspan><tspan x="634" y="256">7.5</tspan><tspan x="634" y="209.9">10.0</tspan><tspan x="634" y="163.8">12.5</tspan><tspan x="634" y="117.8">15.0</tspan><tspan x="634" y="71.7">17.5</tspan></text><text class="c"><tspan x="651.6" y="419">0</tspan><tspan x="734.8" y="419">5</tspan><tspan x="818" y="419">10</tspan><tspan x="901.1" y="419">15</tspan></text><text x="1022" y="61.6">10<tspan dy="-7.3" class="s">3</tspan></text><text x="1022" y="163.8">10<tspan dy="-7.3" class="s">2</tspan></text><text x="1022" y="266">10<tspan dy="-7.3" class="s">1</tspan></text><text x="1022" y="368.2">10<tspan dy="-7.3" class="s">0</tspan></text>
<text class="r"><tspan x="1222.7" y="394.3">0.0</tspan><tspan x="1222.7" y="348.2">2.5</tspan><tspan x="1222.7" y="302.1">5.0</tspan><tspan x="1222.7" y="256">7.5</tspan><tspan x="1222.7" y="209.9">10.0</tspan><tspan x="1222.7" y="163.8">12.5</tspan><tspan x="1222.7" y="117.8">15.0</tspan><tspan x="1222.7" y="71.7">17.5</tspan></text><text class="c"><tspan x="1240.1" y="419">0</tspan><tspan x="1323.9" y="419">5</tspan><tspan x="1407.7" y="419">10</tspan><tspan x="1491.5" y="419">15</tspan></text>
<text><tspan x="1613" y="72.9">1.0</tspan><tspan x="1613" y="117.2">0.5</tspan><tspan x="1613" y="161.6">0.0</tspan><tspan x="1613" y="206">−0.5</tspan><tspan x="1613" y="250.4">−1.0</tspan><tspan x="1613" y="294.8">−1.5</tspan><tspan x="1613" y="339.2">−2.0</tspan><tspan x="1613" y="383.6">−2.5</tspan></text>
</g>

<!-- ROW 9 -->
<g transform="translate(0,3544.8)">
<use href="#pupil" xlink:href="#pupil"/><use href="#psf" xlink:href="#psf"/>
<rect x="1231.7" y="29.3" width="335.3" height="368.7" fill="#f6f6f6"/><g id="d8"></g>
<use href="#fr" xlink:href="#fr"/>
<path class="tk" d="M1606 54.2h4.9M1606 99.2h4.9M1606 144.2h4.9M1606 189.2h4.9M1606 234.2h4.9M1606 279.2h4.9M1606 324.2h4.9M1606 369.2h4.9"/>
<text class="t" x="220.5" y="22.7">Pupil, FRD = 30 mrad</text>
<text class="t" x="809.6" y="22.7">Image, FRD = 30 mrad</text>
<text class="t" x="1399.3" y="22.7">Difference of FRD = 30 mrad from FRD = 27 mrad</text>
<text class="r"><tspan x="45" y="403.5">0</tspan><tspan x="45" y="343.7">500</tspan><tspan x="45" y="283.8">1000</tspan><tspan x="45" y="224">1500</tspan><tspan x="45" y="164.2">2000</tspan><tspan x="45" y="104.3">2500</tspan><tspan x="45" y="44.5">3000</tspan></text><text class="c"><tspan x="54" y="419">0</tspan><tspan x="162.1" y="419">1000</tspan><tspan x="270.2" y="419">2000</tspan><tspan x="378.3" y="419">3000</tspan></text><text><tspan x="433" y="403.5">0.0</tspan><tspan x="433" y="330">0.2</tspan><tspan x="433" y="256.5">0.4</tspan><tspan x="433" y="183">0.6</tspan><tspan x="433" y="109.5">0.8</tspan></text>
<text class="r"><tspan x="634" y="394.3">0.0</tspan><tspan x="634" y="348.2">2.5</tspan><tspan x="634" y="302.1">5.0</tspan><tspan x="634" y="256">7.5</tspan><tspan x="634" y="209.9">10.0</tspan><tspan x="634" y="163.8">12.5</tspan><tspan x="634" y="117.8">15.0</tspan><tspan x="634" y="71.7">17.5</tspan></text><text class="c"><tspan x="651.6" y="419">0</tspan><tspan x="734.8" y="419">5</tspan><tspan x="818" y="419">10</tspan><tspan x="901.1" y="419">15</tspan></text><text x="1022" y="61.6">10<tspan dy="-7.3" class="s">3</tspan></text><text x="1022" y="163.8">10<tspan dy="-7.3" class="s">2</tspan></text><text x="1022" y="266">10<tspan dy="-7.3" class="s">1</tspan></text><text x="1022" y="368.2">10<tspan dy="-7.3" class="s">0</tspan></text>
<text class="r"><tspan x="1222.7" y="394.3">0.0</tspan><tspan x="1222.7" y="348.2">2.5</tspan><tspan x="1222.7" y="302.1">5.0</tspan><tspan x="1222.7" y="256">7.5</tspan><tspan x="1222.7" y="209.9">10.0</tspan><tspan x="1222.7" y="163.8">12.5</tspan><tspan x="1222.7" y="117.8">15.0</tspan><tspan x="1222.7" y="71.7">17.5</tspan></text><text class="c"><tspan x="1240.1" y="419">0</tspan><tspan x="1323.9" y="419">5</tspan><tspan x="1407.7" y="419">10</tspan><tspan x="1491.5" y="419">15</tspan></text>
<text><tspan x="1613" y="59.7">1.0</tspan><tspan x="1613" y="104.7">0.5</tspan><tspan x="1613" y="149.7">0.0</tspan><tspan x="1613" y="194.7">−0.5</tspan><tspan x="1613" y="239.7">−1.0</tspan><tspan x="1613" y="284.7">−1.5</tspan><tspan x="1613" y="329.7">−2.0</tspan><tspan x="1613" y="374.7">−2.5</tspan></text>
</g>
</svg>
<script>
(function(){
var VIR=["440154","48186a","472d7b","424086","3b528b","33638d","2c728e","26828e","21918c","1fa088","28ae80","3fbc73","5ec962","84d44b","addc30","d8e219","fde725"];
var RDB=["67001f","b2182b","d6604d","f4a582","fddbc7","f7f7f7","d1e5f0","92c5de","4393c3","2166ac","053061"];
function interp(tab,t){t=Math.max(0,Math.min(1,t));var n=tab.length-1,f=t*n,i=Math.min(n-1,Math.floor(f)),u=f-i,a=tab[i],b=tab[i+1],s="#";
for(var k=0;k<3;k++){var x=parseInt(a.substr(2*k,2),16),y=parseInt(b.substr(2*k,2),16),v=Math.round(x+(y-x)*u).toString(16);if(v.length<2)v="0"+v;s+=v;}return s;}
var T=[[0,0],[0.71,0],[1.58,0.32],[2.55,1.0],[3.54,1.8],[4.5,2.3],[5.5,2.5],[6.5,2.7],[7.5,2.9],[8.5,3.05],[9.5,3.2],[11,3.45],[14,3.8]];
function dL(d){for(var i=1;i<T.length;i++){if(d<=T[i][0]){var a=T[i-1],b=T[i];return a[1]+(b[1]-a[1])*(d-a[0])/(b[0]-a[0]);}}return 3.8;}
var h="";
for(var y=0;y<20;y++)for(var x=0;x<20;x++){var dx=x-9.5,dy=y-9.5,k=1-0.15*Math.min(1,Math.abs(dy)/6),d=Math.sqrt(dx*dx+dy*dy*k*k),L=3.235-dL(d),t=(L+0.377)/3.612;
h+='<rect x="'+(643.3+x*16.635).toFixed(2)+'" y="'+(398-(y+1)*18.435).toFixed(2)+'" width="16.9" height="18.7" fill="'+interp(VIR,t)+'"/>';}
document.getElementById("psf").innerHTML=h;
var CODE={'1':.03,'2':.1,'3':.2,'4':.3,'5':.4,'6':.5,'7':.6,'8':.7,'9':.8,'X':.9,'#':1,'a':-.03,'b':-.1,'c':-.2,'d':-.3,'e':-.4,'f':-.5,'g':-.6,'h':-.7,'i':-.8,'Y':-.9,'@':-1};
var G=[null,
["........11..........",".......1221.........",".....112332.a.......",".....1233bgfba......","....122365cYga......","....12cb796cga1.....","....12fg2995ba1.....","...112f@g7#6311.....","...112bhid3421......","....111aba221.......",".....1111111........",".........11.........","...................."],
["........111.........","......11222.........",".....1223432........",".....12452eeba......","....123375dYga......","....13ab354dga1.....","....13ehd575aa1.....","....13e@i5#8311.....","....12agid45311.....","....112ab13311......",".....1111221........","........1111........","..........1........."],
[".........11.........",".....1112221........","......124542........",".....12463deba......","...1123574diga......","...1131cb12dfa1.....","...113dhgb45111.....","...113d@Y1##5111....","...1121fid68311.....","....1121a2431.......",".....11112211.......","......11..1.........",".........11........."],
["........111.........",".....1111211........",".....1124542........",".....12464bcb.......","...1123562dgea......","...1132beebcea1.....","....13bhYea4211.....","....13bY@c7#511.....","....122ehc7831......","....112213531.......",".....11112211.......","......11.11.........","...................."],
[".......1111.........",".....111121.........",".....11235421.......","....112465.ba.......","...1124551ced.......","...1134bggcbda......","...114.g@hd4311.....","....13.h@e5#61......","....123cfc7931......",".....12213531.......",".....11112211.......","......111111........","..........11........"],
["......111111........",".....1111221........",".....1123542........",".....124662aa.......","....12454abcc.......","...1135bhheaca......","...1143e@ie4411.....","...1133eYf2#61.1....","....123beb7931......",".....12223531.......",".....11112211.......","......1111111.......","..........11........"],
[".......11111........",".....1111221........",".....11235421.......",".....1246642a.......","...112453bbab.......","...1135ahie.a.1.....","...1144d@Yf35111....","...1144chga#721.....","...1134.cb8X311.....","....1123345311......",".....111122111......","......1111111.......","..........11........"],
["........1111........",".....1111221........",".....11235531.......",".....12467631.......","....12452cb2a.......","....136aiYf1........","....145d@Yg2511.....","....145chgc#71......","....1352ca8X31......","....1123345311......",".....111122111......","......1111111.......","..........1........."]];
for(var r=1;r<9;r++){var s2="",rows=G[r];for(var j=0;j<rows.length;j++){var yy=15-j,str=rows[j];for(var xx=0;xx<20;xx++){var c=str.charAt(xx);if(!(c in CODE))continue;var v=CODE[c];
s2+='<rect x="'+(1231.7+xx*16.765).toFixed(2)+'" y="'+(398-(yy+1)*18.435).toFixed(2)+'" width="17.05" height="18.7" fill="'+interp(RDB,0.5+0.5*v)+'"/>';}}
document.getElementById("d"+r).innerHTML=s2;}
})();
</script>
</body></html>
